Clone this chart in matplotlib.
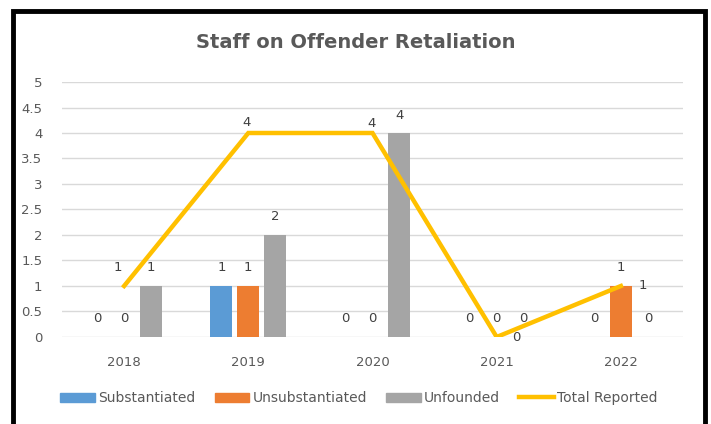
import matplotlib.pyplot as plt
import matplotlib.patches as mpatches
from matplotlib.lines import Line2D
import numpy as np

lstYears = ['2018', '2019', '2020', '2021', '2022']
lstSubstantiated = [0, 1, 0, 0, 0]
lstUnsubstantiated = [0, 1, 0, 0, 1]
lstUnfounded = [1, 2, 4, 0, 0]
lstTotal = [1, 4, 4, 0, 1]

c_strBlue = '#5B9BD5'
c_strOrange = '#ED7D31'
c_strGray = '#A5A5A5'
c_strGold = '#FFC000'
c_strText = '#595959'
c_strLabel = '#404040'

# where excel put the line labels (pixels from the point)
lstLineLabelOffsets = [(-6, 18), (-2, 11), (-1, 10), (20, -1), (22, 0)]

fig = plt.figure(figsize=(7.11, 4.24), dpi=100)
ax = fig.add_axes([0.0872, 0.2052, 0.8734, 0.6014])

x = np.arange(len(lstYears))
fWidth = 0.177
fStep = 0.217

lstSeries = [(lstSubstantiated, c_strBlue, -fStep),
             (lstUnsubstantiated, c_strOrange, 0),
             (lstUnfounded, c_strGray, fStep)]
for (lstVals, strColor, fOff) in lstSeries:
   ax.bar(x + fOff, lstVals, width=fWidth, color=strColor, zorder=2)
   for (xi, v) in zip(x, lstVals):
      ax.annotate('%d' % v, xy=(xi + fOff, v), xytext=(0, 18), textcoords='offset pixels',
                  ha='center', va='center', fontsize=9.5, color=c_strLabel)

ax.plot(x, lstTotal, color=c_strGold, linewidth=3.2, zorder=3, solid_joinstyle='miter')
for (xi, v, off) in zip(x, lstTotal, lstLineLabelOffsets):
   ax.annotate('%d' % v, xy=(xi, v), xytext=off, textcoords='offset pixels',
               ha='center', va='center', fontsize=9.5, color=c_strLabel)

ax.set_xlim(-0.5, len(lstYears) - 0.5)
ax.set_ylim(0, 5)
ax.set_yticks(np.arange(0, 5.01, 0.5))
ax.set_yticklabels(['0', '0.5', '1', '1.5', '2', '2.5', '3', '3.5', '4', '4.5', '5'])
ax.set_xticks(x)
ax.set_xticklabels(lstYears)
ax.grid(axis='y', color='#D9D9D9', linewidth=1, zorder=0)
ax.set_axisbelow(True)
for s in ax.spines.values():
   s.set_visible(False)
ax.tick_params(axis='both', length=0, colors=c_strText, labelsize=9.5)
ax.tick_params(axis='y', pad=14)
ax.tick_params(axis='x', pad=14)

fig.text(0.5, 0.899, 'Staff on Offender Retaliation', ha='center', va='center',
         fontsize=14, fontweight='bold', color=c_strText)

lstHandles = [mpatches.Patch(color=c_strBlue, label='Substantiated'),
              mpatches.Patch(color=c_strOrange, label='Unsubstantiated'),
              mpatches.Patch(color=c_strGray, label='Unfounded'),
              Line2D([], [], color=c_strGold, linewidth=3.2, label='Total Reported')]
leg = fig.legend(handles=lstHandles, loc='center', bbox_to_anchor=(0.505, 0.061), ncol=4,
                 frameon=False, fontsize=10, handlelength=2.5, handleheight=0.6,
                 handletextpad=0.25, columnspacing=1.35)
for t in leg.get_texts():
   t.set_color(c_strText)

# black frame round the chart
fig.patches.append(mpatches.Rectangle((13/711, -0.05), 692/711, 1.05 - 11/424, fill=False,
                                      edgecolor='black', linewidth=3.5, transform=fig.transFigure,
                                      figure=fig))

fig.savefig('out.png', dpi=100)
